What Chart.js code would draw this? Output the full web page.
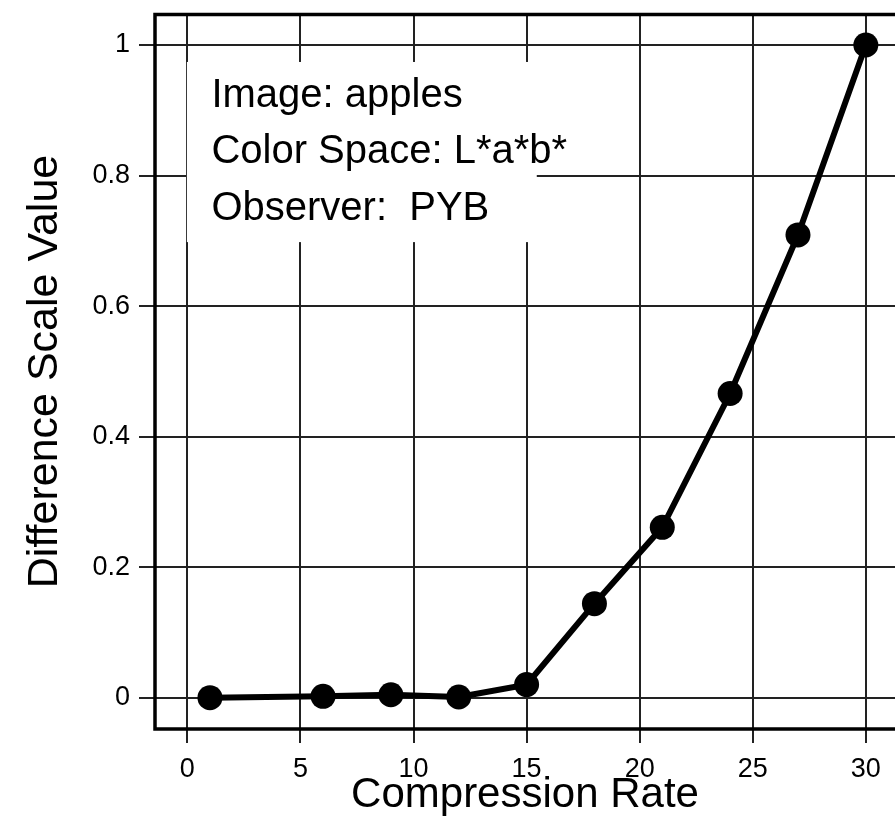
<!DOCTYPE html>
<html><head><meta charset="utf-8">
<script src="https://cdn.jsdelivr.net/npm/chart.js@4/dist/chart.umd.min.js"></script>
<style>html,body{margin:0;padding:0;background:#fff;overflow:hidden;} #wrap{width:895px;height:816px;position:relative;}</style>
</head><body><div id="wrap"><canvas id="c" width="895" height="816"></canvas></div>
<script>
const compressionRates = [1, 6, 9, 12, 15, 18, 21, 24, 27, 30];
const differenceValues = [0.000, 0.002, 0.0045, 0.001, 0.02, 0.144, 0.261, 0.466, 0.709, 1.0];
const xTickValues = [0, 5, 10, 15, 20, 25, 30];
const yTickValues = [0, 0.2, 0.4, 0.6, 0.8, 1];
const yTickLabels = ['0', '0.2', '0.4', '0.6', '0.8', '1'];
const infoLines = ['Image: apples', 'Color Space: L*a*b*', 'Observer:  PYB'];
const xTitle = 'Compression Rate';
const yTitle = 'Difference Scale Value';

const FONT = '"Liberation Sans", Arial, Helvetica, sans-serif';

const points = compressionRates.map((r, i) => ({ x: r, y: differenceValues[i] }));

const framePlugin = {
  id: 'frameAndInfo',
  beforeDatasetsDraw(chart) {
    const { ctx, chartArea: a, scales: { x, y } } = chart;
    ctx.save();
    const bx = x.getPixelForValue(-0.02), bx2 = x.getPixelForValue(15.45);
    const by = y.getPixelForValue(0.974), by2 = y.getPixelForValue(0.698);
    ctx.fillStyle = '#ffffff';
    ctx.fillRect(bx, by, bx2 - bx, by2 - by);
    ctx.fillStyle = '#000000';
    ctx.font = '40px ' + FONT;
    ctx.textAlign = 'left';
    ctx.textBaseline = 'alphabetic';
    infoLines.forEach((t, i) => ctx.fillText(t, bx + 24.5, by + 45 + i * 56.5));
    ctx.strokeStyle = '#000000';
    ctx.lineWidth = 3.5;
    ctx.lineJoin = 'miter';
    ctx.beginPath();
    ctx.moveTo(a.right + 5, a.top + 0.5);
    ctx.lineTo(a.left, a.top + 0.5);
    ctx.lineTo(a.left, a.bottom);
    ctx.lineTo(a.right + 5, a.bottom);
    ctx.stroke();
    ctx.restore();
  }
};

new Chart(document.getElementById('c'), {
  type: 'scatter',
  data: {
    datasets: [{
      data: points,
      showLine: true,
      borderColor: '#000000',
      backgroundColor: '#000000',
      borderWidth: 6,
      pointRadius: 12.5,
      pointBorderWidth: 0,
      pointHoverRadius: 12.5,
      tension: 0,
      clip: false
    }]
  },
  options: {
    responsive: false,
    devicePixelRatio: 1,
    animation: false,
    events: [],
    layout: { autoPadding: false, padding: { top: 14, left: 0, right: 0, bottom: 0 } },
    plugins: { legend: { display: false }, tooltip: { enabled: false } },
    scales: {
      x: {
        type: 'linear',
        min: -1.43,
        max: 31.29,
        afterBuildTicks: s => { s.ticks = xTickValues.map(v => ({ value: v })); },
        afterFit: s => { s.height = 87; s.paddingLeft = 0; s.paddingRight = 0; },
        grid: { color: '#222222', lineWidth: 2, tickLength: 14, drawTicks: true },
        border: { display: false },
        ticks: {
          color: '#000000',
          font: { family: FONT, size: 27 },
          padding: 10,
          maxRotation: 0,
          callback: v => String(v)
        },
        title: {
          display: true,
          text: xTitle,
          color: '#000000',
          font: { family: FONT, size: 42, lineHeight: 1 },
          padding: { top: 0, bottom: 0 }
        }
      },
      y: {
        type: 'linear',
        min: -0.048,
        max: 1.0475,
        afterBuildTicks: s => { s.ticks = yTickValues.map(v => ({ value: v })); },
        afterFit: s => { s.width = 155; s.paddingTop = 0; s.paddingBottom = 0; },
        grid: { color: '#222222', lineWidth: 2, tickLength: 16, drawTicks: true },
        border: { display: false },
        ticks: {
          color: '#000000',
          font: { family: FONT, size: 27 },
          padding: 9,
          callback: (v) => { const i = yTickValues.indexOf(v); return i >= 0 ? yTickLabels[i] : ''; }
        },
        title: {
          display: true,
          text: yTitle,
          color: '#000000',
          font: { family: FONT, size: 43, lineHeight: 1 },
          padding: { top: 24, bottom: 0 }
        }
      }
    }
  },
  plugins: [framePlugin]
});
</script>
</body></html>
